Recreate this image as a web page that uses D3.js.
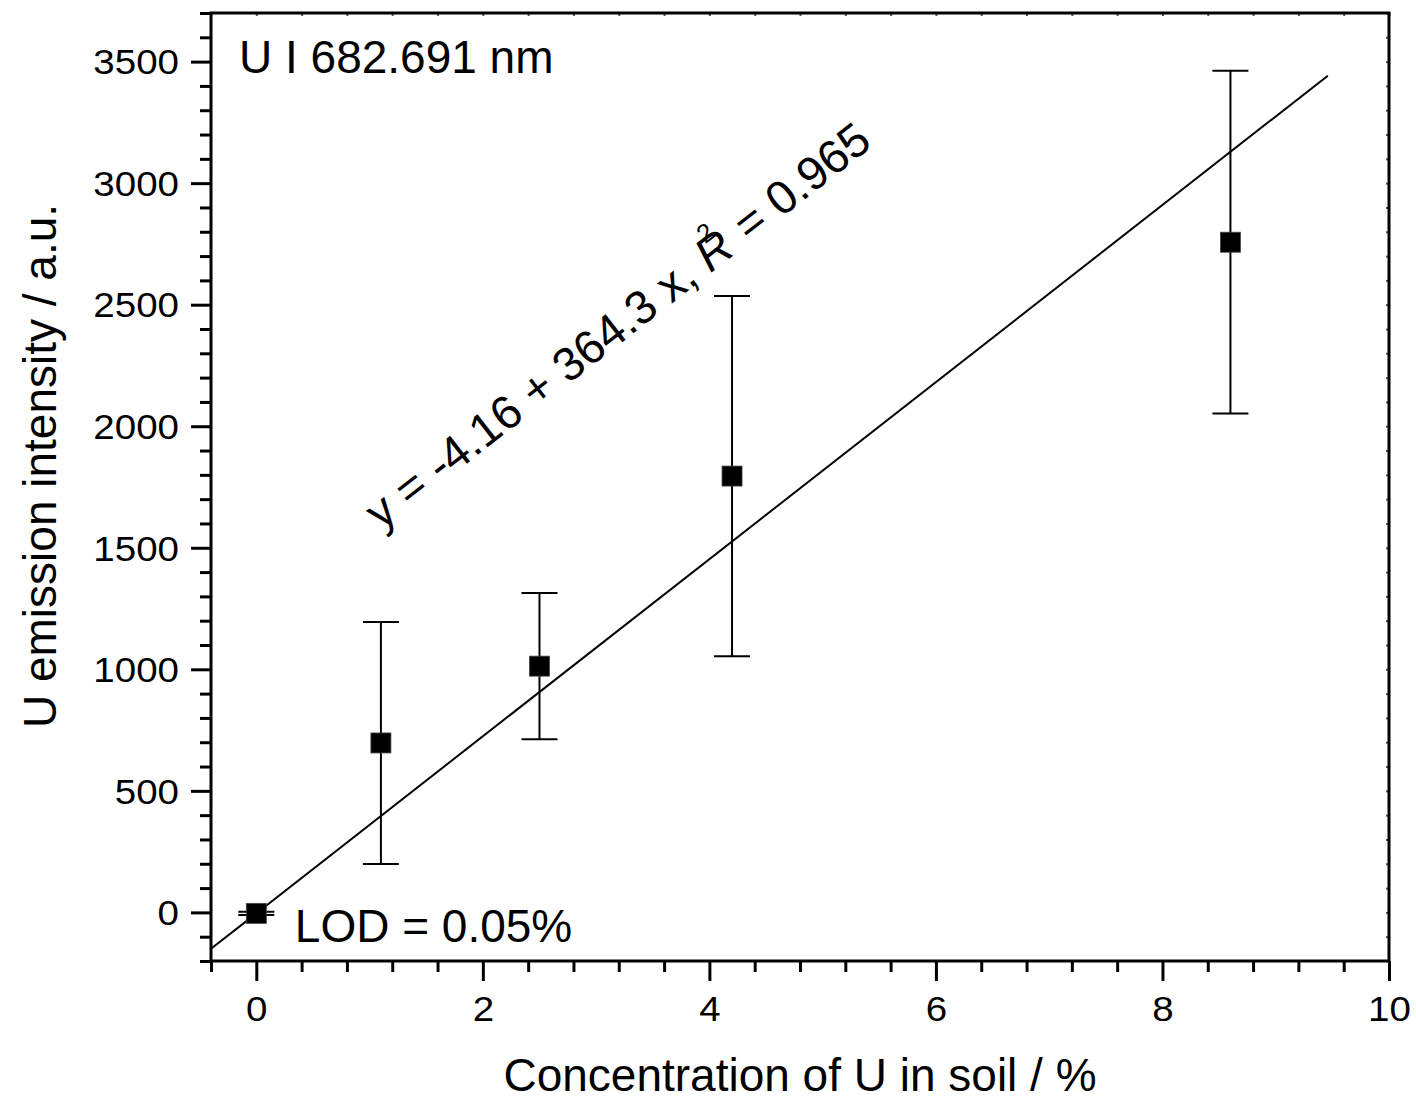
<!DOCTYPE html>
<html><head><meta charset="utf-8">
<script src="https://cdn.jsdelivr.net/npm/d3@7"></script>
<style>
body{margin:0;background:#fff}
svg{display:block}
text{font-family:"Liberation Sans",Arial,Helvetica,sans-serif;fill:#000}
</style>
</head><body>
<svg id="chart" width="1416" height="1102"></svg>
<script>
// ---- data ----
const concentration = [0, 1.1, 2.5, 4.2, 8.6];          // % U in soil
const intensity     = [-4, 697, 1013, 1795, 2757];      // a.u.
const intensityErr  = [7, 498, 301, 741, 705];          // ± error
const fitIntercept = -4.16;
const fitSlope = 364.3;
const fitRange = [-0.4, 9.46];
const xTickValues = [0, 2, 4, 6, 8, 10];
const yTickValues = [0, 500, 1000, 1500, 2000, 2500, 3000, 3500];
const xDomain = [-0.4, 10];
const yDomain = [-200, 3700];
const xTitle = "Concentration of U in soil / %";
const yTitle = "U emission intensity / a.u.";
const lineLabel = "U I 682.691 nm";
const lodLabel = "LOD = 0.05%";

// ---- layout ----
const M = {left: 211, right: 1389, top: 13, bottom: 961};
const svg = d3.select("#chart");
const x = d3.scaleLinear().domain(xDomain).range([M.left, M.right]);
const y = d3.scaleLinear().domain(yDomain).range([M.bottom, M.top]);

const xMinor = d3.range(-1, 26).map(i => +(i * 0.4).toFixed(2))
  .filter(v => v >= xDomain[0] - 1e-9 && v <= xDomain[1] + 1e-9 && !xTickValues.some(t => Math.abs(t - v) < 1e-6));
const yMinor = d3.range(-2, 38).map(i => i * 100)
  .filter(v => !yTickValues.includes(v));

const TICK_FS = 35, STRETCH = 1.1;

// minor ticks
svg.append("g").attr("transform", `translate(0,${M.bottom})`)
  .call(d3.axisBottom(x).tickValues(xMinor).tickSize(11).tickFormat(""))
  .call(g => g.select(".domain").remove())
  .selectAll("line").attr("stroke", "#000").attr("stroke-width", 3);
svg.append("g").attr("transform", `translate(${M.left},0)`)
  .call(d3.axisLeft(y).tickValues(yMinor).tickSize(11).tickFormat(""))
  .call(g => g.select(".domain").remove())
  .selectAll("line").attr("stroke", "#000").attr("stroke-width", 3);

// major bottom axis
const gx = svg.append("g").attr("transform", `translate(0,${M.bottom})`)
  .call(d3.axisBottom(x).tickValues(xTickValues).tickSize(20).tickFormat(d3.format("d")))
  .call(g => g.select(".domain").remove());
gx.selectAll("line").attr("stroke", "#000").attr("stroke-width", 3);
gx.selectAll("text").attr("y", 60.5).attr("dy", 0).attr("x", 0)
  .attr("transform", `scale(${STRETCH},1)`)
  .style("font-size", TICK_FS + "px").attr("fill", "#000");

// major left axis
const gy = svg.append("g").attr("transform", `translate(${M.left},0)`)
  .call(d3.axisLeft(y).tickValues(yTickValues).tickSize(20).tickFormat(d3.format("d")))
  .call(g => g.select(".domain").remove());
gy.selectAll("line").attr("stroke", "#000").attr("stroke-width", 3);
gy.selectAll("text").attr("x", -32 / STRETCH).attr("dy", "0.35em")
  .attr("transform", `scale(${STRETCH},1)`)
  .style("font-size", TICK_FS + "px").attr("fill", "#000");

// top & right tiny inward ticks
const allX = xMinor.concat(xTickValues);
const allY = yMinor.concat(yTickValues);
svg.append("g").attr("transform", `translate(0,${M.top})`)
  .call(d3.axisTop(x).tickValues(allX).tickSize(-3).tickFormat(""))
  .call(g => g.select(".domain").remove())
  .selectAll("line").attr("stroke", "#555").attr("stroke-width", 2);
svg.append("g").attr("transform", `translate(${M.right},0)`)
  .call(d3.axisRight(y).tickValues(allY).tickSize(-3).tickFormat(""))
  .call(g => g.select(".domain").remove())
  .selectAll("line").attr("stroke", "#555").attr("stroke-width", 2);

// frame
svg.append("rect").attr("x", M.left).attr("y", M.top)
  .attr("width", M.right - M.left).attr("height", M.bottom - M.top)
  .attr("fill", "none").attr("stroke", "#000").attr("stroke-width", 3);

// fit line
const fitPts = fitRange.map(v => [v, fitIntercept + fitSlope * v]);
svg.append("path").datum(fitPts)
  .attr("d", d3.line().x(d => x(d[0])).y(d => y(d[1])))
  .attr("fill", "none").attr("stroke", "#000").attr("stroke-width", 2);

// error bars + markers
const pts = concentration.map((c, i) => ({c, v: intensity[i], e: intensityErr[i]}));
const CAP = 18, MS = 20;
const eb = svg.append("g").attr("stroke", "#000").attr("stroke-width", 2);
pts.forEach(p => {
  eb.append("line").attr("x1", x(p.c)).attr("x2", x(p.c))
    .attr("y1", y(p.v + p.e)).attr("y2", y(p.v - p.e));
  [p.v + p.e, p.v - p.e].forEach(v => {
    eb.append("line").attr("x1", x(p.c) - CAP).attr("x2", x(p.c) + CAP)
      .attr("y1", y(v)).attr("y2", y(v));
  });
});
svg.append("g").selectAll("rect").data(pts).join("rect")
  .attr("x", d => x(d.c) - MS / 2).attr("y", d => y(d.v) - MS / 2)
  .attr("width", MS).attr("height", MS)
  .attr("fill", "#000").attr("stroke", "#444").attr("stroke-width", 0.8);

// annotations
svg.append("text").attr("x", M.left + 28).attr("y", M.top + 60)
  .style("font-size", "46px").text(lineLabel);
svg.append("text").attr("x", x(0.34)).attr("y", y(-123))
  .style("font-size", "46px").text(lodLabel);

const eq = svg.append("text")
  .attr("transform", `translate(${x(1.1)},${y(1570)}) rotate(-38)`)
  .style("font-size", "47px");
eq.append("tspan").text("y = -4.16 + 364.3 x, ");
eq.append("tspan").style("font-style", "italic").text("R");
eq.append("tspan").attr("dx", -20).attr("dy", -26).style("font-size", "26px").text("2");
eq.append("tspan").attr("dx", 8).attr("dy", 26).text(" = 0.965");

// axis titles
svg.append("text").attr("x", (M.left + M.right) / 2).attr("y", 1091)
  .attr("text-anchor", "middle").style("font-size", "46px").text(xTitle);
svg.append("text").attr("transform", `translate(56,${466}) rotate(-90)`)
  .attr("text-anchor", "middle").style("font-size", "46px").text(yTitle);
</script>
</body></html>
